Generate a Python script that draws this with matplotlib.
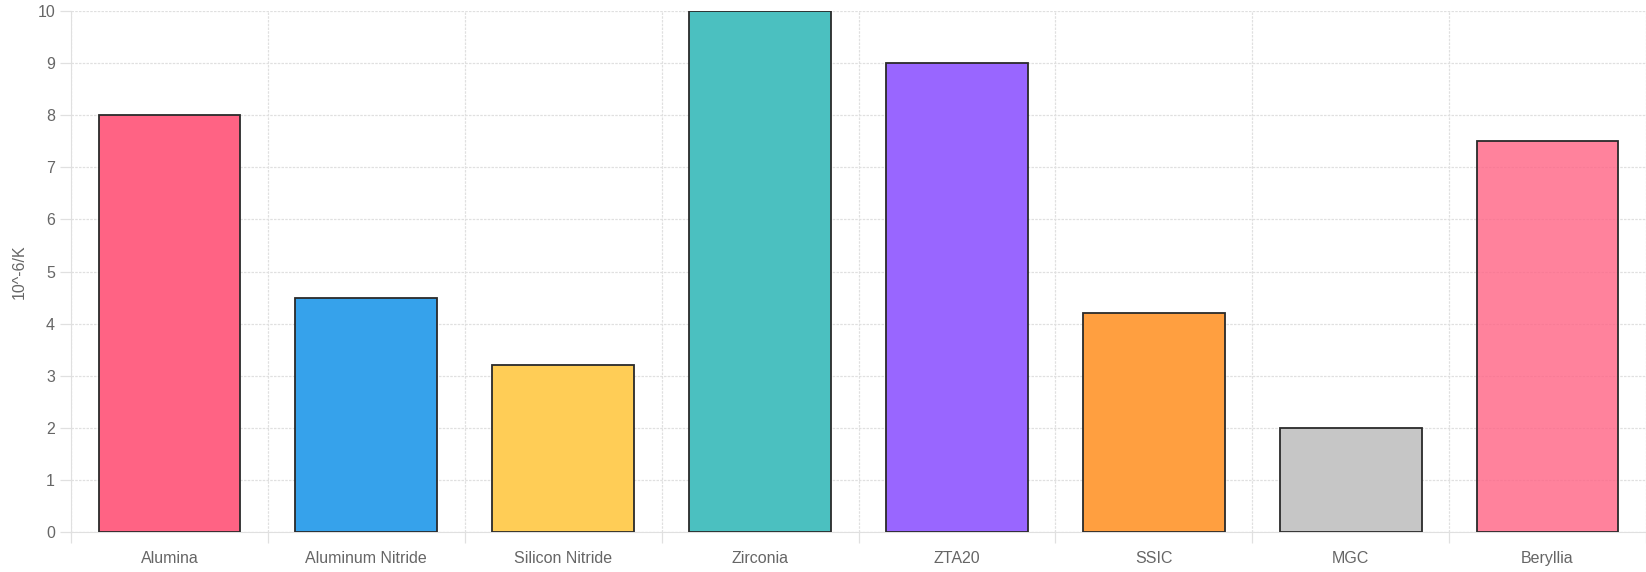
import numpy as np
import matplotlib.pyplot as plt
from matplotlib.colors import to_rgb

plt.rcParams['font.family'] = ['Liberation Sans', 'DejaVu Sans']

# Datos
materials = ['Alumina', 'Aluminum Nitride', 'Silicon Nitride', 'Zirconia',
             'ZTA20', 'SSIC', 'MGC', 'Beryllia']
cte = [8, 4.5, 3.2, 10, 9, 4.2, 2, 7.5]
colors = ['#ff6384', '#36a2eb', '#ffcd56', '#4bc0c0',
          '#9966ff', '#ff9f40', '#c6c6c6', '#ff6384']
alphas = [1, 1, 1, 1, 1, 1, 1, 0.8]
y_ticks = np.arange(0, 11, 1)

W, H = 1646, 572
fig = plt.figure(figsize=(W / 100, H / 100), dpi=100)
ax = fig.add_axes([71 / W, 1 - 532 / H, 1 - 71 / W, (532 - 11) / H])

x = np.arange(len(materials))
face = [(*to_rgb(c), a) for c, a in zip(colors, alphas)]
ax.bar(x, cte, width=0.72, color=face, edgecolor='#2a2a2a',
       linewidth=1.3, zorder=3)

ax.set_xlim(-0.5, len(materials) - 0.5)
ax.set_ylim(0, 10)
ax.set_yticks(y_ticks)
ax.set_xticks(x)
ax.set_xticklabels(materials)
ax.set_xticks(np.arange(-0.5, len(materials)), minor=True)

grid_col = '#e0e0e0'
ax.grid(True, axis='y', which='major', color=grid_col, linewidth=0.9,
        linestyle=(0, (2, 1)), zorder=0)
ax.grid(True, axis='x', which='minor', color=grid_col, linewidth=0.9,
        linestyle=(0, (2, 1)), zorder=0)
ax.tick_params(axis='x', which='major', length=0, pad=14,
               labelsize=11.5, labelcolor='#666666')
ax.tick_params(axis='x', which='minor', length=8, color=grid_col, width=0.9)
ax.tick_params(axis='y', length=8, color=grid_col, width=0.9, pad=3.5,
               labelsize=11.5, labelcolor='#666666')

for s in ['top', 'right']:
    ax.spines[s].set_visible(False)
ax.spines['left'].set_color(grid_col)
ax.spines['bottom'].set_color(grid_col)

ax.set_ylabel('10^-6/K', fontsize=11.5, color='#666666')
ax.yaxis.set_label_coords((27 - 71) / (W - 71), 0.5)

fig.savefig('out.png', dpi=100)
